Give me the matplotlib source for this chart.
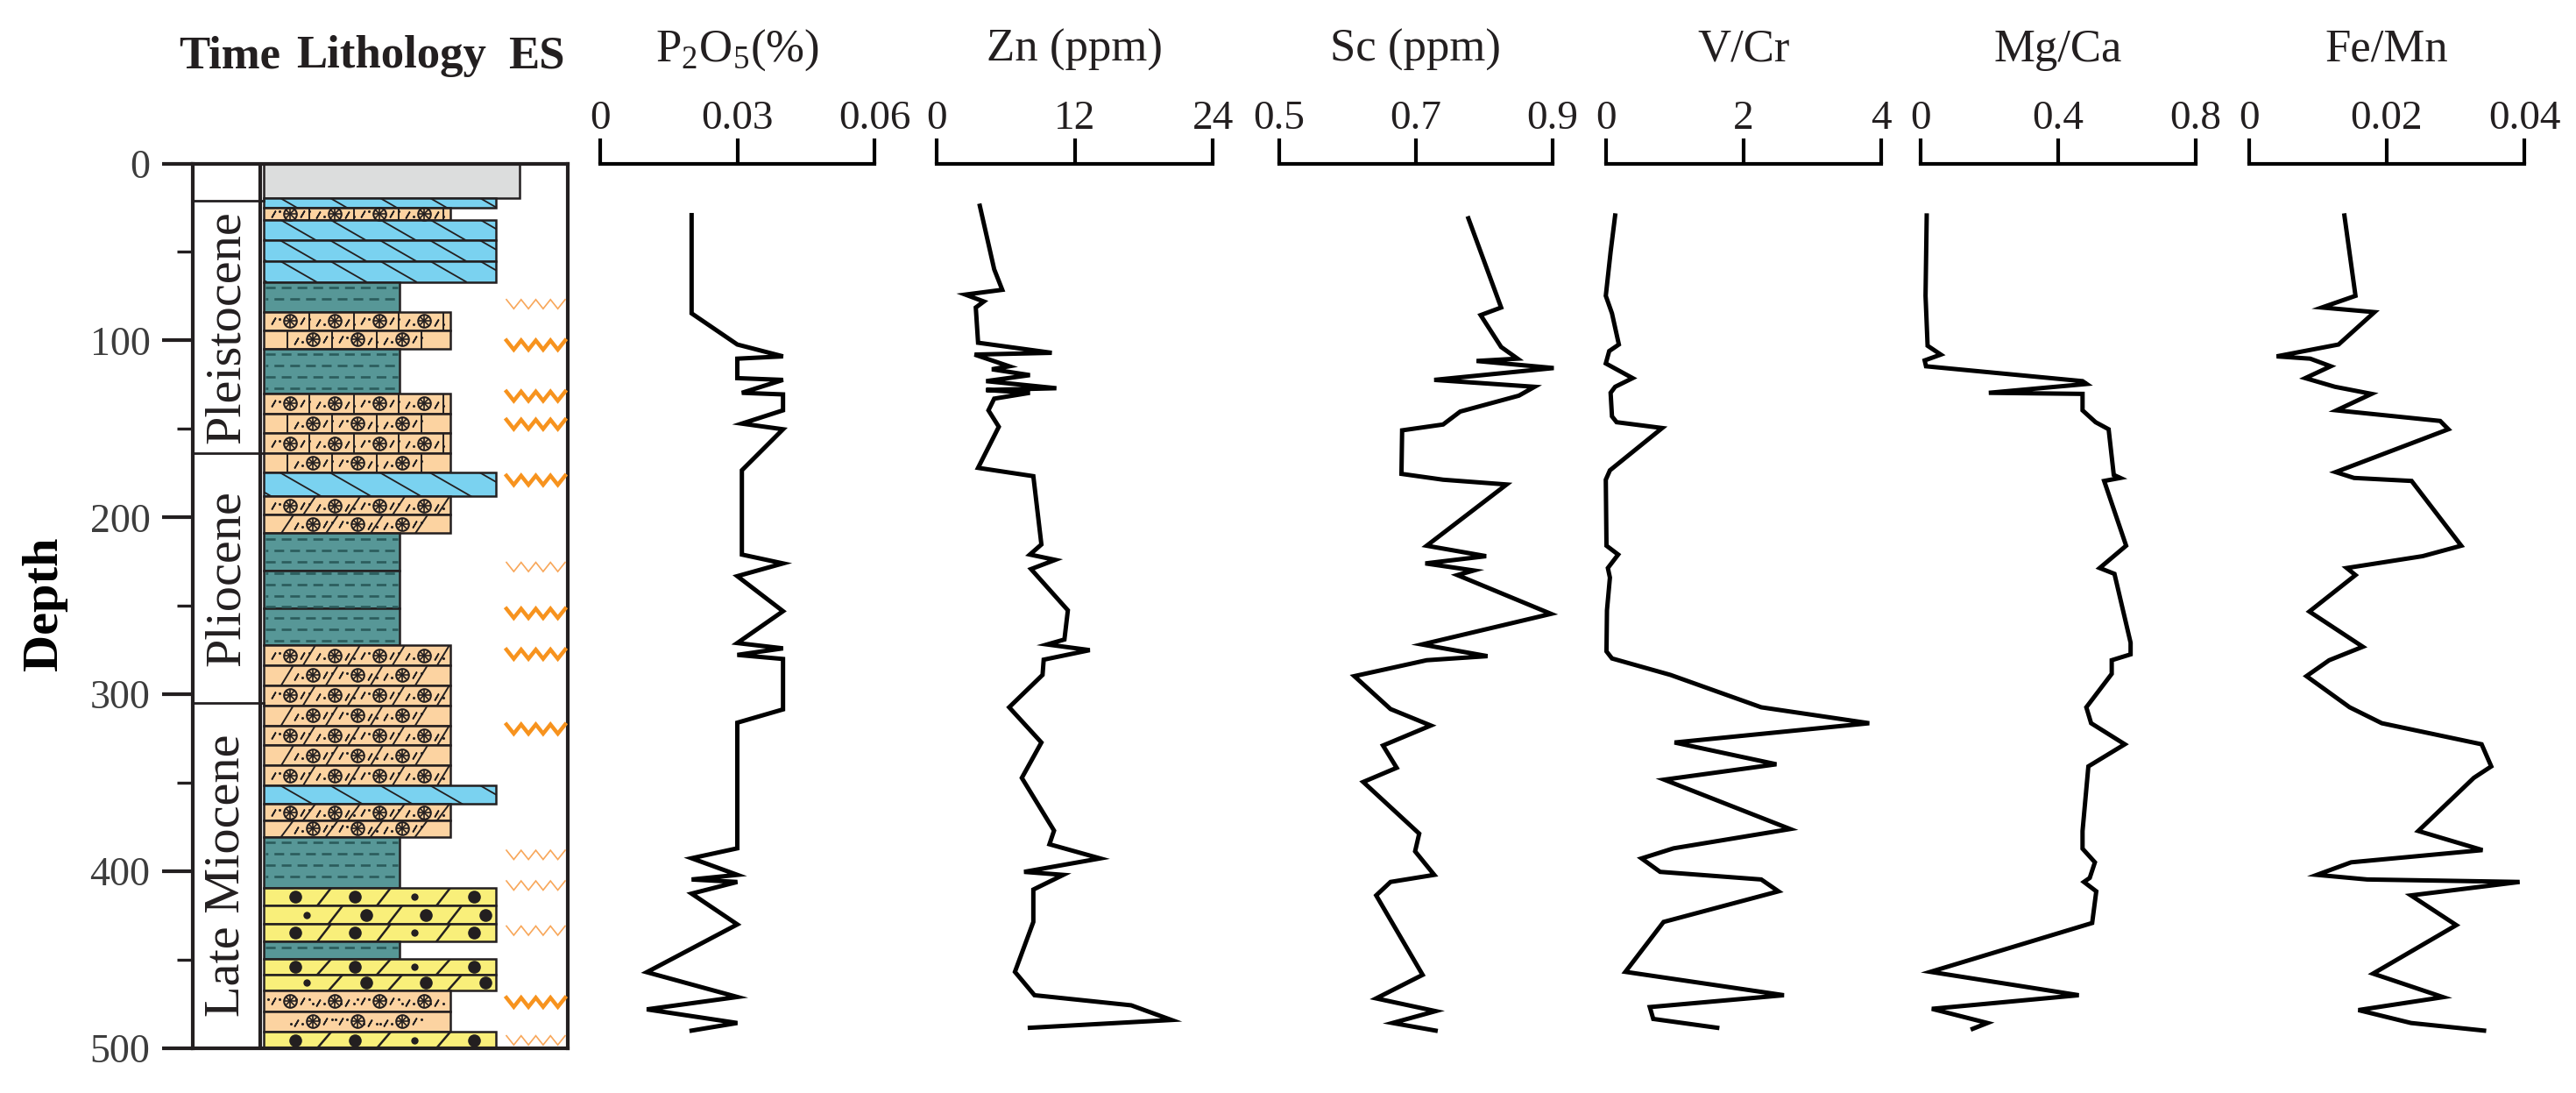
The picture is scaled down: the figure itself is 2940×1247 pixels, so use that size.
import numpy as np
import matplotlib
matplotlib.use('Agg')
import matplotlib.pyplot as plt
from matplotlib.patches import Rectangle

plt.rcParams['font.family'] = ['Liberation Serif', 'DejaVu Serif']
plt.rcParams['mathtext.fontset'] = 'custom'
plt.rcParams['mathtext.rm'] = 'Liberation Serif'
plt.rcParams['lines.scale_dashes'] = False

# ------------------------------------------------------------------ data
depth_major = [0, 100, 200, 300, 400, 500]
depth_minor = [50, 150, 250, 350, 450]

time_names = ['', 'Pleistocene', 'Pliocene', 'Late Miocene']
time_bounds = [0, 21, 163.5, 305, 500]

litho_top = [0, 19.6, 25, 31.8, 66.9, 84, 104.6, 130, 174.8, 188.2, 209,
             272.2, 351.5, 361.9, 380.4, 409.3, 439.8, 449.5, 467.4, 490.7]
litho_bottom = [19.6, 25, 31.8, 66.9, 84, 104.6, 130, 174.8, 188.2, 209, 272.2,
                351.5, 361.9, 380.4, 409.3, 439.8, 449.5, 467.4, 490.7, 500]
litho_type = ['soil', 'dolo', 'sand', 'dolo', 'mud', 'sand', 'mud', 'sand', 'dolo',
              'sand2', 'mud', 'sand2', 'dolo', 'sand2', 'mud', 'pebbly', 'mud',
              'pebbly', 'sand3', 'pebbly']
litho_rows = [1, 1, 1, 3, 1, 2, 1, 4, 1, 2, 3, 7, 1, 2, 1, 3, 1, 2, 2, 1]

es_depth = [79.5, 102.6, 131.5, 147.4, 179, 228, 254.2, 277.3, 319.6, 390.7,
            408, 433.5, 474, 495.5]
es_strong = [0, 1, 1, 1, 1, 0, 1, 1, 1, 0, 0, 0, 1, 0]

p2o5_depth = [29.2, 84.7, 102.3, 109, 110.3, 121.3, 122.3, 129.6, 130.5, 139.5, 147,
              150.2, 173.4, 221, 226, 233.2, 253, 271, 274, 277.7, 280, 308.5, 316,
              387, 392.6, 402, 404.6, 406, 412.6, 430, 457, 471, 478, 485.7, 490]
p2o5_val = [0.020, 0.020, 0.030, 0.040, 0.030, 0.030, 0.040, 0.031, 0.040, 0.040,
            0.031, 0.040, 0.031, 0.031, 0.040, 0.030, 0.040, 0.030, 0.040, 0.030,
            0.040, 0.040, 0.030, 0.030, 0.020, 0.030, 0.020, 0.030, 0.020, 0.030,
            0.0102, 0.030, 0.0102, 0.030, 0.020]

zn_depth = [23.9, 59.8, 71.4, 74.1, 78, 81.4, 101.3, 107, 108, 114.6, 116.3, 119.6,
            123, 127, 128, 129.6, 132.9, 139.5, 148.8, 172, 176.7, 215.3, 221, 224,
            229.2, 252.5, 269, 271.8, 275, 280.4, 289, 307.3, 327.2, 347.2, 377,
            384.7, 392.7, 400.3, 402, 410.3, 428.6, 456.8, 470, 475.7, 484, 488.4]
zn_val = [3.75, 5.0, 5.7, 2.5, 4.1, 3.4, 3.6, 10.0, 3.3, 6.3, 4.8, 8.1, 4.3, 10.4,
          4.3, 8.1, 5.0, 4.5, 5.4, 3.6, 8.4, 9.1, 8.1, 10.3, 8.2, 11.4, 11.1, 9.6,
          13.3, 9.3, 9.2, 6.3, 9.1, 7.4, 10.2, 9.8, 14.2, 7.6, 11.0, 8.4, 8.4, 6.8,
          8.5, 16.9, 20.4, 8.1]

sc_depth = [31, 81.4, 85.7, 103.7, 110.3, 111.6, 115.6, 122.3, 126.2, 131.2, 140.2,
            147.5, 150.8, 175.4, 178.7, 181.4, 216, 221.9, 226, 230, 232.6, 254.5,
            271.8, 278.4, 280.7, 289.7, 308.3, 317.6, 328.9, 341.5, 349.5, 378.7,
            388.7, 402, 406, 413.6, 458.5, 471.8, 479, 485.7, 490]
sc_val = [0.777, 0.825, 0.795, 0.825, 0.849, 0.789, 0.902, 0.727, 0.874, 0.851,
          0.765, 0.740, 0.680, 0.679, 0.740, 0.833, 0.716, 0.803, 0.714, 0.785,
          0.761, 0.898, 0.709, 0.805, 0.716, 0.610, 0.663, 0.722, 0.652, 0.672,
          0.623, 0.705, 0.699, 0.727, 0.663, 0.642, 0.710, 0.642, 0.729, 0.666, 0.729]

vcr_depth = [29.4, 50, 74.8, 84.7, 102.3, 106, 113, 121.3, 126.2, 129.6, 142.9, 146.2,
             149.5, 173.4, 178.7, 216, 221, 228.6, 234, 252.5, 275.7, 279.7, 289,
             307.3, 316.3, 327.2, 339.5, 348.2, 376.1, 387, 392.7, 400.3, 404.6,
             411.3, 428.6, 456.8, 470, 476.7, 483.4, 488.4]
vcr_val = [0.136, 0.07, 0.0, 0.09, 0.19, 0.05, 0.0, 0.39, 0.136, 0.07, 0.09, 0.157,
           0.82, 0.06, 0.0, 0.01, 0.18, 0.03, 0.06, 0.017, 0.01, 0.09, 0.94, 2.26,
           3.83, 1.0, 2.48, 0.85, 2.68, 0.985, 0.52, 0.79, 2.26, 2.51, 0.84, 0.285,
           2.59, 0.64, 0.69, 1.62]

mgca_depth = [29.4, 74.8, 103, 108, 111.3, 114.6, 123, 124.6, 129.6, 130.2, 139.5,
              146.2, 150.2, 176, 177.7, 179.4, 216, 228.6, 231.9, 270.8, 277.4, 280.7,
              288.4, 307.3, 316.3, 328.2, 340.7, 377.2, 387.2, 394.9, 403.7, 406,
              411.3, 429.2, 456.8, 470, 477.7, 485.7, 489]
mgca_val = [0.017, 0.0136, 0.0196, 0.058, 0.011, 0.015, 0.471, 0.483, 0.198, 0.471,
            0.471, 0.509, 0.547, 0.562, 0.581, 0.534, 0.598, 0.521, 0.564, 0.611,
            0.611, 0.556, 0.556, 0.482, 0.496, 0.594, 0.488, 0.471, 0.471, 0.507,
            0.492, 0.475, 0.511, 0.499, 0.028, 0.46, 0.032, 0.194, 0.151]

femn_depth = [29.4, 74.8, 81.4, 84, 102.3, 109, 110.3, 114.6, 121.3, 126.2, 130.2,
              139.5, 145.5, 150.2, 174.4, 177.7, 179.4, 216, 221.9, 228.6, 232.6,
              253.2, 273.1, 280.7, 289.7, 307.3, 316.3, 328.2, 340.7, 347.2, 377.2,
              388, 394.9, 402, 404.6, 406, 413.6, 430.4, 457.8, 471.1, 478.4, 485.7, 490]
femn_val = [0.01387, 0.01548, 0.0106, 0.01824, 0.01302, 0.00403, 0.0089, 0.01188,
            0.00819, 0.0125, 0.01781, 0.01273, 0.02778, 0.02897, 0.0126, 0.01527,
            0.02363, 0.03084, 0.02524, 0.01421, 0.01548, 0.00878, 0.01654, 0.01166,
            0.00836, 0.01463, 0.0193, 0.0338, 0.0352, 0.03266, 0.0246, 0.03393,
            0.01485, 0.00988, 0.01718, 0.03932, 0.02354, 0.03012, 0.01803, 0.0282,
            0.0159, 0.02354, 0.03415]

panel_titles = [r'P$_\mathregular{2}$O$_\mathregular{5}$(%)', 'Zn (ppm)', 'Sc (ppm)',
                'V/Cr', 'Mg/Ca', 'Fe/Mn']
panel_ticks = [[0, 0.03, 0.06], [0, 12, 24], [0.5, 0.7, 0.9], [0, 2, 4],
               [0, 0.4, 0.8], [0, 0.02, 0.04]]
panel_ticklabels = [['0', '0.03', '0.06'], ['0', '12', '24'], ['0.5', '0.7', '0.9'],
                    ['0', '2', '4'], ['0', '0.4', '0.8'], ['0', '0.02', '0.04']]
panel_series = [(p2o5_depth, p2o5_val), (zn_depth, zn_val), (sc_depth, sc_val),
                (vcr_depth, vcr_val), (mgca_depth, mgca_val), (femn_depth, femn_val)]

# ------------------------------------------------------------------ layout / style
W, H = 2940, 1247
Y0, Y1 = 186.5, 1196.0
K = (Y1 - Y0) / 500.0  # px per depth unit
panel_px = [(685, 998), (1069, 1384.3), (1460, 1771.7), (1832.7, 2146.7),
            (2192.3, 2505.7), (2566.7, 2881)]
dark = '#231f20'
fill_color = {'soil': '#dcdddd', 'dolo': '#7ad2f0', 'sand': '#fcd3a1',
              'sand2': '#fcd3a1', 'sand3': '#fcd3a1', 'mud': '#579797',
              'pebbly': '#f9ef7a'}
bar_right = {'soil': 373, 'dolo': 346, 'sand': 294, 'sand2': 294, 'sand3': 294,
             'mud': 236, 'pebbly': 346}
BAR_LEFT = 80.5


def rect(x0, x1):
    return [x0 / W, 1 - Y1 / H, (x1 - x0) / W, (Y1 - Y0) / H]


fig = plt.figure(figsize=(W / 100, H / 100), dpi=100)
fig.patch.set_facecolor('white')

# ------------------------------------------------------------------ lithology column
axl = fig.add_axes(rect(220, 648))
axl.set_xlim(0, 428)
axl.set_ylim(500, 0)
for s in axl.spines.values():
    s.set_linewidth(3.0)
    s.set_color(dark)
axl.set_xticks([])
axl.set_yticks(depth_major)
axl.set_yticks(depth_minor, minor=True)
axl.set_yticklabels([str(v) for v in depth_major])
axl.tick_params(axis='y', which='major', direction='out', length=25, width=3.0,
                color=dark, labelsize=33, labelcolor='#3d3d3d', pad=10)
axl.tick_params(axis='y', which='minor', direction='out', length=13, width=2.4,
                color=dark)

# time column
axl.axvline(77, color=dark, lw=3.0, zorder=5)
for i, name in enumerate(time_names):
    a, b = time_bounds[i], time_bounds[i + 1]
    if i > 0:
        axl.plot([0, 80.5], [a, a], color=dark, lw=2.0, zorder=5)
    if name:
        axl.text(38.5, (a + b) / 2, name, rotation=90, ha='center', va='center',
                 fontsize=42, color=dark)

fossil_x, fossil_y, big_x, big_y, small_x, small_y = [], [], [], [], [], []


def clipped(patch, xs, ys, **kw):
    ln, = axl.plot(xs, ys, **kw)
    ln.set_clip_path(patch)
    return ln


for li, (top, bot, typ, nrow) in enumerate(zip(litho_top, litho_bottom, litho_type,
                                                litho_rows)):
    right = bar_right[typ]
    h = (bot - top) / nrow
    for r in range(nrow):
        y0 = top + r * h
        y1 = y0 + h
        yc = (y0 + y1) / 2
        patch = Rectangle((BAR_LEFT, y0), right - BAR_LEFT, h, facecolor=fill_color[typ],
                          edgecolor=dark, lw=1.8, zorder=2)
        axl.add_patch(patch)
        if typ == 'dolo':
            run = 1.74 * h * K
            for x in np.arange(100 - 57 * 3, right, 57):
                clipped(patch, [x, x + run], [y0, y1], color=dark, lw=1.3, zorder=3)
        elif typ in ('sand', 'sand2', 'sand3'):
            base = 133 if r % 2 == 0 else 108
            if typ == 'sand':
                for d in np.arange(base, right - 4, 51):
                    clipped(patch, [d, d], [y0, y1], color=dark, lw=1.4, zorder=3)
            elif typ == 'sand2':
                for d in np.arange(base, right - 4, 51):
                    clipped(patch, [d - 7, d + 7], [y1, y0], color=dark, lw=1.4, zorder=3)
            f0 = 111 if r % 2 == 0 else 137
            fs = np.arange(f0, right - 6, 51)
            for f in fs:
                fossil_x.append(f)
                fossil_y.append(yc)
            marks_x = [f + 14 for f in fs] + [f - 19 for f in fs if f - 19 > 84]
            marks_y = [yc + 0.8 * (i % 2) for i in range(len(marks_x))]
            clipped(patch, marks_x, marks_y, ls='none', marker=(2, 2, -30), ms=6.5,
                    mew=1.2, color=dark, zorder=3)
            dots_x = [f + 22 for f in fs] + [f - 12 for f in fs if f - 12 > 84]
            if typ == 'sand3':
                dots_x += [f + 7 for f in fs] + [f - 25 for f in fs if f - 25 > 84]
            dots_y = [yc + (1.5 if i % 2 else -1.2) for i in range(len(dots_x))]
            clipped(patch, dots_x, dots_y, ls='none', marker='o', ms=2.2, mew=0,
                    color=dark, zorder=3)
        elif typ == 'pebbly':
            base = 117 if r % 2 == 0 else 130
            pos = np.arange(base, right - 8, 68)
            for k, x in enumerate(pos):
                if (k + 2 * r) % 4 == 2:
                    small_x.append(x)
                    small_y.append(yc)
                else:
                    big_x.append(x)
                    big_y.append(yc)
            for x in np.arange(base + 33, right - 3, 68):
                clipped(patch, [x - 8, x + 8], [y1, y0], color=dark, lw=1.8, zorder=3)
    if typ == 'mud':
        for j, y in enumerate(np.arange(top + 3.2, bot - 1.5, 6.4)):
            axl.plot([BAR_LEFT + 2, right - 2], [y, y], color='#2b5c5c', lw=1.9,
                     ls=(0 if j % 2 == 0 else 6, (8, 5)), zorder=3)

axl.plot(fossil_x, fossil_y, ls='none', marker='o', ms=10.5, mfc='none', mec=dark,
         mew=1.5, zorder=4)
axl.plot(fossil_x, fossil_y, ls='none', marker='+', ms=10.5, mec=dark, mew=1.2, zorder=4)
axl.plot(fossil_x, fossil_y, ls='none', marker='x', ms=7.5, mec=dark, mew=1.2, zorder=4)
axl.plot(big_x, big_y, ls='none', marker='o', ms=10.5, color=dark, mew=0, zorder=4)
axl.plot(small_x, small_y, ls='none', marker='o', ms=6, color=dark, mew=0, zorder=4)

# ES zigzags
zig_x = np.linspace(358, 425, 9)
zig_s = np.array([-1, 1, -1, 1, -1, 1, -1, 1, -1]) * 2.6
for d, strong in zip(es_depth, es_strong):
    if strong:
        axl.plot(zig_x, d + zig_s, color='#f7931e', lw=3.2, solid_joinstyle='miter',
                 zorder=4)
    else:
        axl.plot(zig_x, d + zig_s, color='#f8a75a', lw=1.2, solid_joinstyle='miter',
                 zorder=4)

# headers
fig.text(262 / W, 1 - 77 / H, 'Time', ha='center', va='baseline', fontsize=38,
         weight='bold', color=dark)
fig.text(447 / W, 1 - 77 / H, 'Lithology', ha='center', va='baseline', fontsize=38,
         weight='bold', color=dark)
fig.text(612 / W, 1 - 77 / H, 'ES', ha='center', va='baseline', fontsize=38,
         weight='bold', color=dark)
fig.text(51 / W, 1 - 689 / H, 'Depth', rotation=90, ha='center', va='center',
         fontsize=42, weight='bold', color='black')

# ------------------------------------------------------------------ geochemical panels
for (x0, x1), title, ticks, labels, (dep, val) in zip(panel_px, panel_titles,
                                                       panel_ticks, panel_ticklabels,
                                                       panel_series):
    ax = fig.add_axes(rect(x0, x1))
    ax.set_facecolor('none')
    ax.set_xlim(ticks[0], ticks[-1])
    ax.set_ylim(500, 0)
    for name, s in ax.spines.items():
        s.set_visible(name == 'top')
    ax.spines['top'].set_linewidth(3.0)
    ax.spines['top'].set_color('black')
    ax.xaxis.set_ticks_position('top')
    ax.set_xticks(ticks)
    ax.set_xticklabels(labels)
    ax.set_yticks([])
    ax.tick_params(axis='x', direction='out', length=21, width=3.0, color='black',
                   labelsize=34, labelcolor=dark, pad=0, top=True, bottom=False,
                   labeltop=True, labelbottom=False)
    ax.plot(val, dep, color='black', lw=3.6, solid_joinstyle='miter', clip_on=False)
    fig.text((x0 + x1) / 2 / W, 1 - 70 / H, title, ha='center', va='baseline',
             fontsize=38, color=dark)

fig.savefig('out.png', dpi=100, facecolor='white')
